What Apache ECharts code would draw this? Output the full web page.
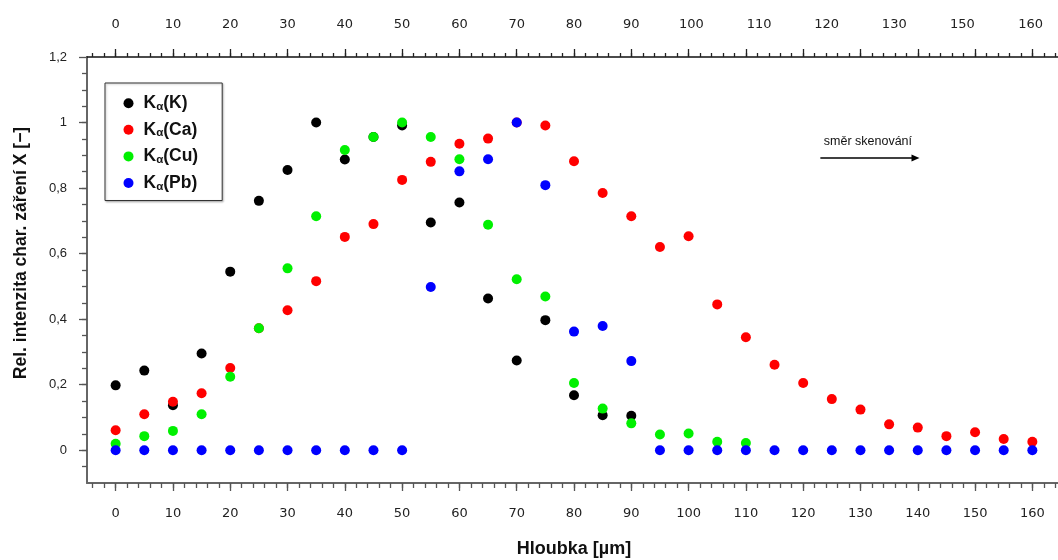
<!DOCTYPE html>
<html><head><meta charset="utf-8">
<script src="https://cdn.jsdelivr.net/npm/echarts@6/dist/echarts.min.js"></script>
<style>html,body{margin:0;padding:0;background:#fff}#c{width:1058px;height:560px}</style>
</head><body><div id="c"></div>
<script>
// depth [µm]
const depth = [0,5,10,15,20,25,30,35,40,45,50,55,60,65,70,75,80,85,90,95,100,105,110,115,120,125,130,135,140,145,150,155,160];
// relative intensities
const kK  = [0.198,0.243,0.137,0.295,0.545,0.761,0.855,1.0,0.887,0.956,0.991,0.695,0.756,0.463,0.274,0.397,0.168,0.107,0.105,
             null,null,null,null,null,null,null,null,null,null,null,null,null,null];
const kCa = [0.061,0.110,0.148,0.174,0.251,0.372,0.427,0.516,0.651,0.690,0.825,0.880,0.935,0.951,1.0,0.991,0.882,0.785,0.714,
             0.620,0.653,0.445,0.345,0.261,0.205,0.156,0.124,0.079,0.069,0.043,0.055,0.034,0.026];
const kCu = [0.020,0.043,0.059,0.110,0.224,0.372,0.555,0.714,0.916,0.956,1.0,0.956,0.888,0.688,0.522,0.469,0.205,0.127,0.082,
             0.048,0.051,0.026,0.022,null,null,null,null,null,null,null,null,null,null];
const kPb = [0,0,0,0,0,0,0,0,0,0,0,0.498,0.851,0.888,1.0,0.809,0.362,0.379,0.272,
             0,0,0,0,0,0,0,0,0,0,0,0,0,0,0];
const seriesNames = ['Kα(K)','Kα(Ca)','Kα(Cu)','Kα(Pb)'];
const seriesRich = ['{m|K}{s|α}{m|(K)}','{m|K}{s|α}{m|(Ca)}','{m|K}{s|α}{m|(Cu)}','{m|K}{s|α}{m|(Pb)}'];
const seriesColors = ['#000000','#ff0000','#00f000','#0000ff'];

// axis ticks / labels
const xMajorTicks = [0,10,20,30,40,50,60,70,80,90,100,110,120,130,140,150,160];
const topLabelText = ['0','10','20','30','40','50','60','70','80','90','100','110','120','130','150','160'];
const topLabelPos  = [0,10,20,30,40,50,60,70,80,90,100.5,112.3,124.1,135.9,147.8,159.7];
const yMajorTicks = [0,0.2,0.4,0.6,0.8,1.0,1.2];
const xMinorTicks = []; for (let v = -4; v <= 164; v += 2) xMinorTicks.push(v);
const yMinorTicks = []; for (let i = -1; i <= 23; i++) yMinorTicks.push(Math.round(i*5)/100);

// annotation
const arrowText = 'směr skenování';
const arrowFrom = [123.0, 0.8915];
const arrowTo = [139.6, 0.8915];

const X_MIN = -5, X_MAX = 165, Y_MIN = -0.1, Y_MAX = 1.2;

function pairs(vals){ const out=[]; vals.forEach((v,i)=>{ if (v!==null && v!==undefined) out.push([depth[i], v]); }); return out; }

const tickFont = {fontFamily:'DejaVu Sans', fontSize:13, color:'#222'};
function xAxisBase(pos, extra){ return Object.assign({type:'value', position:pos, min:X_MIN, max:X_MAX, splitLine:{show:false}, gridIndex:0}, extra); }

const xAxes = [
  xAxisBase('bottom', {
    axisLine:{show:true, onZero:false, lineStyle:{color:'#666', width:2}},
    axisTick:{show:true, length:8, customValues:xMajorTicks, lineStyle:{color:'#555', width:1.3}},
    axisLabel:Object.assign({customValues:xMajorTicks, margin:24}, tickFont),
    name:'Hloubka [µm]', nameLocation:'middle', nameGap:57,
    nameTextStyle:{fontFamily:'Liberation Sans', fontWeight:'bold', fontSize:18, color:'#111'}
  }),
  xAxisBase('bottom', {
    axisLine:{show:false, onZero:false},
    axisTick:{show:true, length:5, customValues:xMinorTicks, lineStyle:{color:'#555', width:1.3}},
    axisLabel:{show:false}
  }),
  xAxisBase('top', {
    axisLine:{show:true, onZero:false, lineStyle:{color:'#111', width:1.5}},
    axisTick:{show:true, length:8, customValues:xMajorTicks, lineStyle:{color:'#222', width:1.3}},
    axisLabel:Object.assign({customValues:topLabelPos, margin:26, formatter:function(v){
      let bi=0, bd=1e9; topLabelPos.forEach((p,i)=>{const d=Math.abs(p-v); if(d<bd){bd=d;bi=i;}}); return topLabelText[bi]; }}, tickFont)
  }),
  xAxisBase('top', {
    axisLine:{show:false, onZero:false},
    axisTick:{show:true, length:4, customValues:xMinorTicks, lineStyle:{color:'#222', width:1.3}},
    axisLabel:{show:false}
  })
];

const yAxes = [
  {type:'value', position:'left', min:Y_MIN, max:Y_MAX, splitLine:{show:false},
   axisLine:{show:true, onZero:false, lineStyle:{color:'#666', width:2}},
   axisTick:{show:true, length:8, customValues:yMajorTicks, lineStyle:{color:'#555', width:1.3}},
   axisLabel:{customValues:yMajorTicks, margin:20, fontFamily:'Liberation Sans', fontSize:13, color:'#222',
     formatter:function(v){ return String(Math.round(v*10)/10).replace('.', ','); }}},
  {type:'value', position:'left', min:Y_MIN, max:Y_MAX, splitLine:{show:false},
   axisLine:{show:false, onZero:false},
   axisTick:{show:true, length:5, customValues:yMinorTicks, lineStyle:{color:'#555', width:1.3}},
   axisLabel:{show:false}}
];

const dataSets = [kK, kCa, kCu, kPb];
const series = dataSets.map((vals, i) => ({
  name: seriesNames[i], type:'scatter', xAxisIndex:0, yAxisIndex:0,
  data: pairs(vals), symbol:'circle', symbolSize:10, z: 2 + i,
  itemStyle:{color: seriesColors[i], opacity:1},
  emphasis:{disabled:true}
}));
series[0].markLine = {
  silent:true, animation:false, symbol:['none','triangle'], symbolSize:[7,8],
  lineStyle:{color:'#000', width:1.5, type:'solid'},
  label:{show:true, position:'middle', formatter:arrowText, color:'#111', fontFamily:'Liberation Sans', fontSize:12.5, distance:10},
  data:[[{coord:arrowFrom}, {coord:arrowTo}]]
};

const chart = echarts.init(document.getElementById('c'), null, {renderer:'canvas'});
chart.setOption({
  animation:false,
  backgroundColor:'#fff',
  grid:{left:87, top:57, width:974, height:426, containLabel:false, outerBoundsMode:'none'},
  xAxis:xAxes, yAxis:yAxes, series:series,
  legend:{
    data:seriesNames, orient:'vertical', left:105, top:83,
    itemWidth:20, itemHeight:10, itemGap:6.6, padding:[9.7,24,8,18.5],
    borderColor:'#333', borderWidth:1, backgroundColor:'#fff',
    shadowColor:'rgba(0,0,0,0.25)', shadowBlur:2, shadowOffsetX:1, shadowOffsetY:1,
    icon:'circle', selectedMode:false,
    formatter:function(n){ return seriesRich[seriesNames.indexOf(n)]; },
    textStyle:{rich:{
      m:{fontFamily:'Liberation Sans', fontWeight:'bold', fontSize:17.5, color:'#111', lineHeight:19},
      s:{fontFamily:'Liberation Sans', fontWeight:'bold', fontSize:11.5, color:'#111', lineHeight:19, verticalAlign:'bottom', padding:[8,0,0,0]}
    }}
  },
  graphic:[{
    type:'text', x:21, y:253, rotation:Math.PI/2,
    style:{text:'Rel. intenzita char. záření X [−]', fontFamily:'Liberation Sans', fontWeight:'bold', fontSize:17.5,
      fill:'#111', align:'center', verticalAlign:'middle'}
  }]
});
</script></body></html>
